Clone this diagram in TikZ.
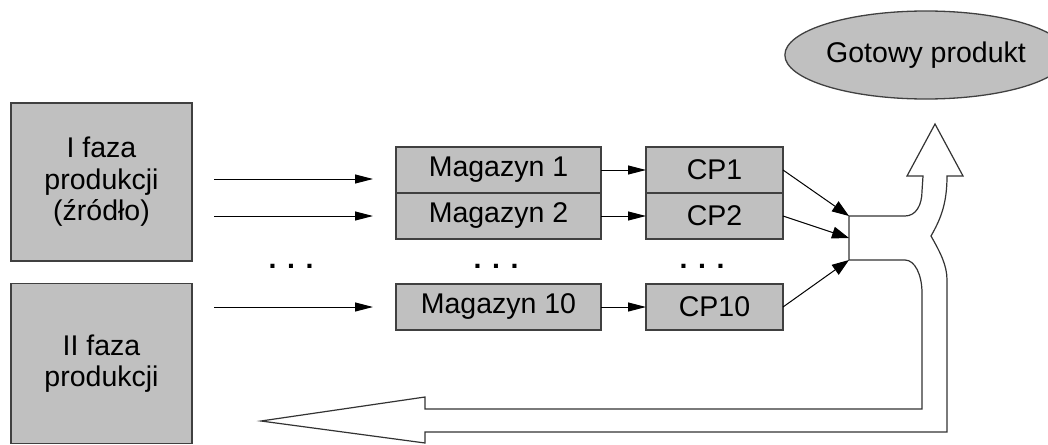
\documentclass[tikz,border=0pt]{standalone}
\usepackage{fontspec}
\setmainfont{Liberation Sans}
\usetikzlibrary{arrows.meta,shapes.geometric}
\definecolor{boxfill}{HTML}{C0C0C0}
\definecolor{boxline}{HTML}{404040}
\begin{document}
\begin{tikzpicture}[x=1pt,y=-1pt,
  every node/.style={font={\fontsize{28.5}{31.5}\selectfont}, inner sep=0pt, outer sep=0pt, text=black},
  stagebox/.style={draw=boxline, line width=1.3pt, fill=boxfill, align=center},
  flow/.style={line width=1pt, -{Triangle[length=18pt,width=9pt]}},
  feed/.style={line width=1pt, -{Triangle[length=17pt,width=12pt]}},
  bigarrow/.style={draw=black!80, line width=1.2pt, fill=white}]
\useasboundingbox (0,0) rectangle (1048,444);

% production phases
\node[stagebox, minimum width=181pt, minimum height=158pt] (f1) at (101.5,182) {I faza\\produkcji\\(źródło)};
\node[stagebox, minimum width=181pt, minimum height=160pt] (f2) at (101.5,363.5) {II faza\\produkcji};

% stores and CP units
\node[stagebox, minimum width=205pt, minimum height=46pt] (m1) at (498.5,170) {Magazyn 1};
\node[stagebox, minimum width=205pt, minimum height=46pt] (m2) at (498.5,216) {Magazyn 2};
\node[stagebox, minimum width=205pt, minimum height=46pt] (m10) at (498.5,307) {Magazyn 10};
\node[stagebox, minimum width=137pt, minimum height=46pt] (c1) at (714.5,170) {CP1};
\node[stagebox, minimum width=137pt, minimum height=46pt] (c2) at (714.5,216) {CP2};
\node[stagebox, minimum width=137pt, minimum height=46pt] (c10) at (714.5,307) {CP10};

% finished product
\node[ellipse, draw=boxline, line width=1.3pt, fill=boxfill, minimum width=241pt, minimum height=88pt] (gp) at (926,55) {Gotowy produkt};

% ellipses of omitted rows
\node[anchor=base] (d1) at (291,268) {\textbf{. . .}};
\node[anchor=base] (d2) at (496,268) {\textbf{. . .}};
\node[anchor=base] (d3) at (702,268) {\textbf{. . .}};

% inputs from the first phase
\coordinate (s1) at (214,179);
\coordinate (s2) at (214,216);
\coordinate (s3) at (214,307);
\coordinate (e1) at (373,179);
\coordinate (e2) at (373,216);
\coordinate (e3) at (373,307);
\draw[flow] (s1) -- (e1);
\draw[flow] (s2) -- (e2);
\draw[flow] (s3) -- (e3);

\draw[flow] (m1) -- (c1);
\draw[flow] (m2) -- (c2);
\draw[flow] (m10) -- (c10);

% split arrow: finished product up, returns back to the second phase
\coordinate (j1) at (849,216);
\coordinate (j2) at (849,238);
\coordinate (j3) at (849,260);
\draw[bigarrow] (j1) -- (905,216) .. controls (916,216) and (922,205) .. (922,191)
  -- (923,176) -- (907,176) -- (935,124) -- (963,176) -- (947,176)
  .. controls (947,205) and (940,220) .. (931,236)
  .. controls (940,252) and (947,265) .. (947,280)
  -- (947,432) -- (425,432) -- (425,443) -- (261,421) -- (425,397) -- (425,409)
  -- (922,409) -- (922,293) .. controls (922,275) and (915,260) .. (905,260)
  -- (j3) -- cycle;

\draw[feed] (c1.east) -- (j1);
\draw[feed] (c2.east) -- (j2);
\draw[feed] (c10.east) -- (j3);
\end{tikzpicture}
\end{document}
